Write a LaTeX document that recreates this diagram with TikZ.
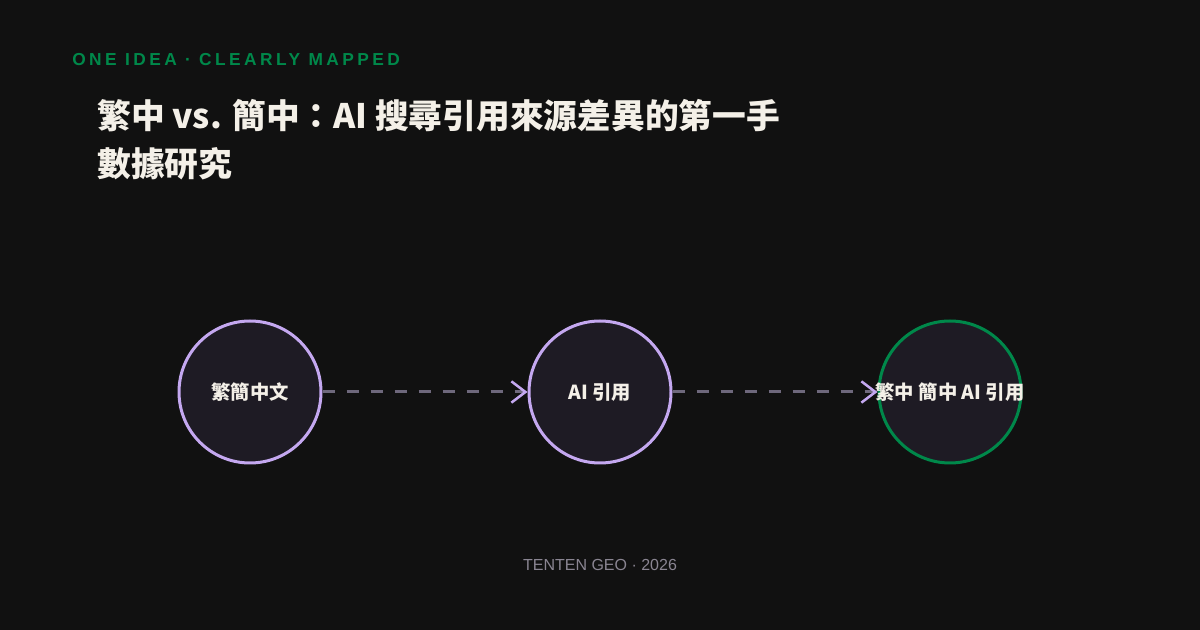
\documentclass[tikz,border=0pt]{standalone}
\usepackage{fontspec}
\usetikzlibrary{arrows.meta,positioning}
\setmainfont{Liberation Sans}
\newfontfamily\cjkfont{Noto Sans CJK TC}
\newfontfamily\tagfont[LetterSpace=20]{Liberation Sans}
\definecolor{bgdark}{HTML}{111111}
\definecolor{nodefill}{HTML}{1E1B24}
\definecolor{lavender}{HTML}{C4A8F0}
\definecolor{ideagreen}{HTML}{00884A}
\definecolor{dashgray}{HTML}{6E687C}
\definecolor{titlewhite}{HTML}{F4F0E8}
\definecolor{footgray}{HTML}{8A8592}

\begin{document}
\begin{tikzpicture}[x=0.75pt,y=-0.75pt,
  stage/.style={circle, draw=lavender, fill=nodefill, line width=2.25pt,
    minimum size=106.5pt, inner sep=0pt, text=titlewhite,
    font=\cjkfont\bfseries\fontsize{14.5}{17}\selectfont},
  flow/.style={dashgray, line width=2.25pt, dash pattern=on 9.5pt off 8.5pt,
    -{Straight Barb[length=10.5pt,width=16pt,line width=1.9pt,color=lavender]}}]
% background 1200x630
\fill[bgdark] (0,0) rectangle (1200,630);
\useasboundingbox (0,0) rectangle (1200,630);

% heading
\node[anchor=base west, inner sep=0pt, text=ideagreen,
  font=\tagfont\bfseries\fontsize{13}{15}\selectfont] (tag) at (72,66)
  {ONE IDEA · CLEARLY MAPPED};
\node[anchor=base west, inner sep=0pt, text=titlewhite,
  font=\cjkfont\bfseries\fontsize{25.3}{30}\selectfont] (title1) at (97,129)
  {繁中 vs. 簡中：AI 搜尋引用來源差異的第一手};
\node[anchor=base west, inner sep=0pt, text=titlewhite,
  font=\cjkfont\bfseries\fontsize{25.3}{30}\selectfont] (title2) at (97,177)
  {數據研究};

% the three stages (last label runs past its circle)
\node[stage] (lang) at (250,392) {繁簡中文};
\node[stage] (cite) at (600,392) {AI 引用};
\node[stage, draw=ideagreen,
  label={[text=titlewhite, font=\cjkfont\bfseries\fontsize{14.5}{17}\selectfont]center:繁中 簡中 AI 引用}]
  (diff) at (950,392) {};

% connectors
\draw[flow] (lang) -- (cite);
\draw[flow] (cite) -- (diff);

% footer
\node[text=footgray, font=\fontsize{12}{14}\selectfont] (foot) at (600,565)
  {TENTEN GEO · 2026};
\end{tikzpicture}
\end{document}
